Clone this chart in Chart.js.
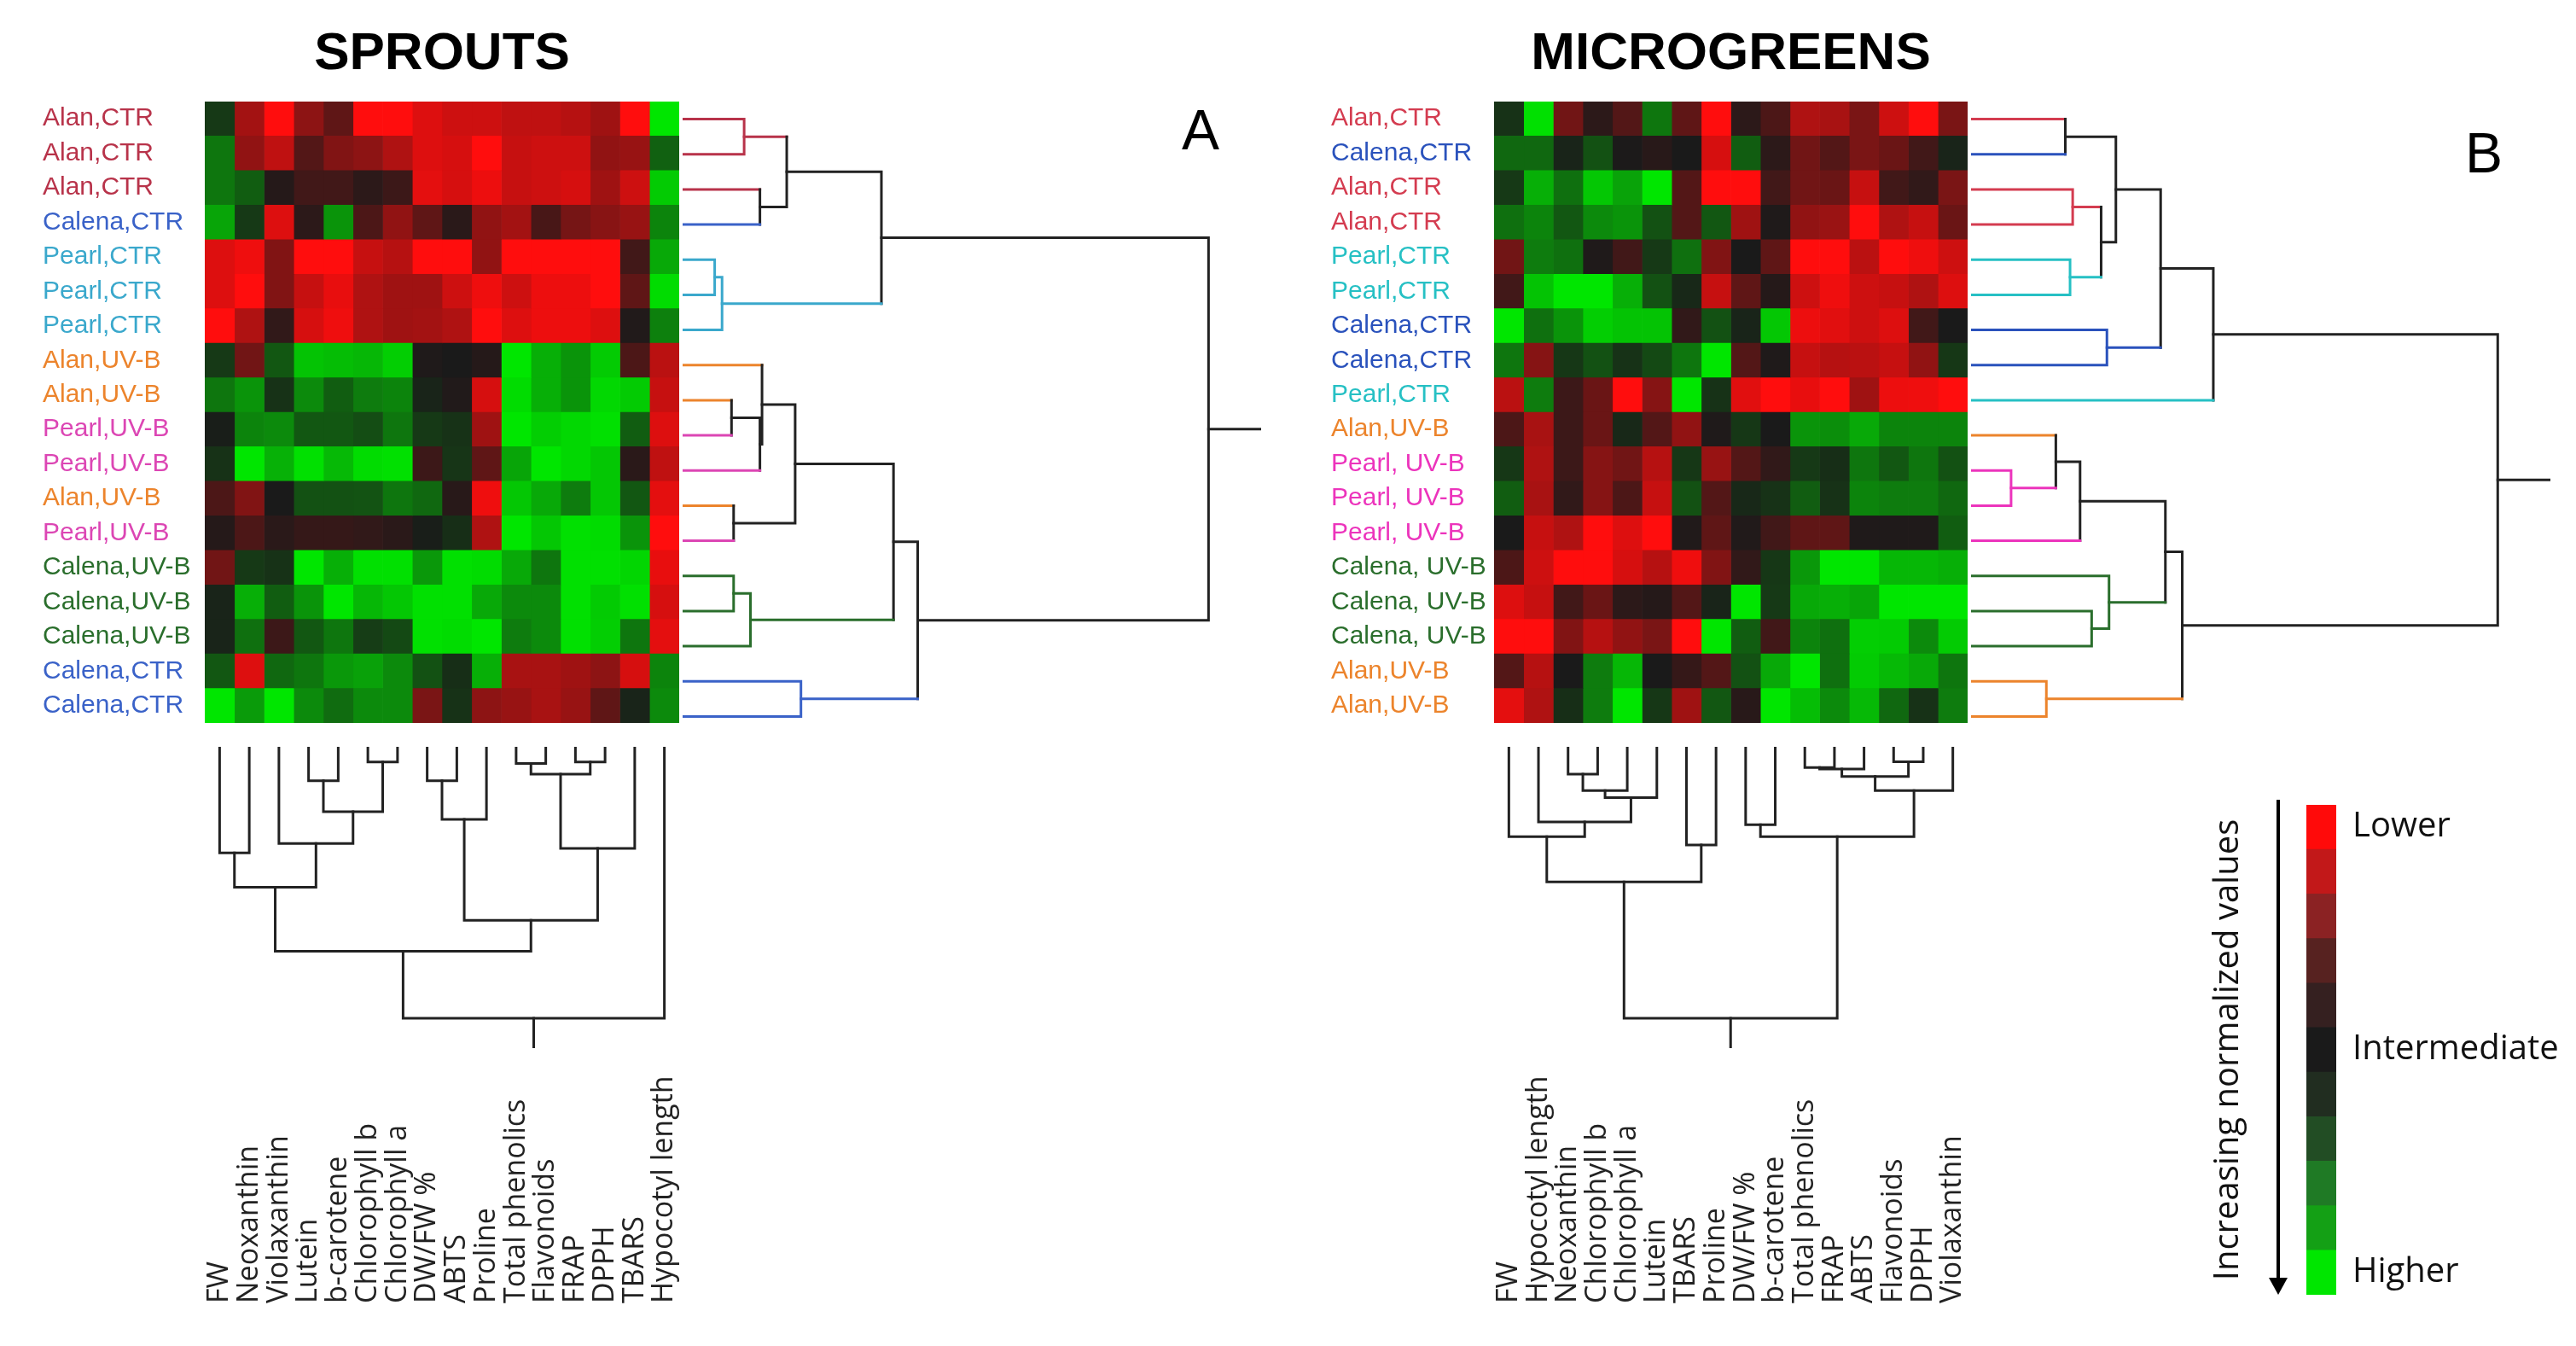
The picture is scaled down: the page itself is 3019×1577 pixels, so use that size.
<!DOCTYPE html>
<html>
<head>
<meta charset="utf-8">
<script src="https://cdn.jsdelivr.net/npm/chart.js@4.4.1/dist/chart.umd.min.js"></script>
<style>
  html, body { margin: 0; padding: 0; background: #fff; }
  #page { position: relative; width: 3019px; height: 1577px; overflow: hidden; background: #fff; }
  canvas { position: absolute; }
  .tag { position: absolute; font-family: 'Liberation Sans', Arial, sans-serif; font-size: 66px; line-height: 1; color: #000; }
</style>
</head>
<body>
<div id="page">
  <canvas id="heatA" width="750" height="845" style="left:50px;top:20px"></canvas>
  <canvas id="rowDendA" width="678" height="741" style="left:800px;top:119px"></canvas>
  <canvas id="colDendA" width="556" height="353" style="left:240px;top:875px"></canvas>
  <canvas id="colLabA" width="700" height="340" style="left:200px;top:1200px"></canvas>

  <canvas id="heatB" width="750" height="845" style="left:1560px;top:20px"></canvas>
  <canvas id="rowDendB" width="679" height="741" style="left:2310px;top:119px"></canvas>
  <canvas id="colDendB" width="555" height="353" style="left:1751px;top:875px"></canvas>
  <canvas id="colLabB" width="700" height="340" style="left:1711px;top:1200px"></canvas>

  <canvas id="legend" width="439" height="660" style="left:2580px;top:900px"></canvas>

  <div class="tag" style="left:1385px;top:119px">A</div>
  <div class="tag" style="left:2889px;top:146px">B</div>
</div>
<script>
// ---- data ----
const colNamesA = ['FW', 'Neoxanthin', 'Violaxanthin', 'Lutein', 'b-carotene', 'Chlorophyll b', 'Chlorophyll a',
  'DW/FW %', 'ABTS', 'Proline', 'Total phenolics', 'Flavonoids', 'FRAP', 'DPPH', 'TBARS', 'Hypocotyl length'];
const colNamesB = ['FW', 'Hypocotyl length', 'Neoxanthin', 'Chlorophyll b', 'Chlorophyll a', 'Lutein', 'TBARS',
  'Proline', 'DW/FW %', 'b-carotene', 'Total phenolics', 'FRAP', 'ABTS', 'Flavonoids', 'DPPH', 'Violaxanthin'];

const rowLabelsA = ['Alan,CTR', 'Alan,CTR', 'Alan,CTR', 'Calena,CTR', 'Pearl,CTR', 'Pearl,CTR', 'Pearl,CTR',
  'Alan,UV-B', 'Alan,UV-B', 'Pearl,UV-B', 'Pearl,UV-B', 'Alan,UV-B', 'Pearl,UV-B',
  'Calena,UV-B', 'Calena,UV-B', 'Calena,UV-B', 'Calena,CTR', 'Calena,CTR'];
const rowLabelsB = ['Alan,CTR', 'Calena,CTR', 'Alan,CTR', 'Alan,CTR', 'Pearl,CTR', 'Pearl,CTR', 'Calena,CTR',
  'Calena,CTR', 'Pearl,CTR', 'Alan,UV-B', 'Pearl, UV-B', 'Pearl, UV-B', 'Pearl, UV-B',
  'Calena, UV-B', 'Calena, UV-B', 'Calena, UV-B', 'Alan,UV-B', 'Alan,UV-B'];

// normalized values, -1 = lower (red), 0 = intermediate (black), 1 = higher (green)
const valuesA = [
  [0.15, -0.6, -1, -0.5, -0.3, -1, -1, -0.85, -0.78, -0.78, -0.72, -0.72, -0.68, -0.58, -1, 1],
  [0.45, -0.52, -0.72, -0.25, -0.45, -0.5, -0.65, -0.85, -0.82, -1, -0.75, -0.78, -0.78, -0.52, -0.55, 0.35],
  [0.45, 0.33, -0.05, -0.17, -0.17, -0.08, -0.15, -0.88, -0.82, -0.92, -0.75, -0.78, -0.82, -0.58, -0.78, 0.87],
  [0.68, 0.15, -0.85, -0.08, 0.6, -0.22, -0.52, -0.3, -0.07, -0.52, -0.6, -0.2, -0.4, -0.48, -0.55, 0.52],
  [-0.85, -0.93, -0.45, -1, -1, -0.75, -0.68, -1, -1, -0.52, -1, -1, -1, -1, -0.17, 0.7],
  [-0.85, -1, -0.45, -0.75, -0.9, -0.65, -0.58, -0.58, -0.78, -0.93, -0.78, -0.92, -0.92, -1, -0.3, 0.95],
  [-1, -0.65, -0.1, -0.82, -0.93, -0.65, -0.58, -0.6, -0.65, -1, -0.85, -0.92, -0.92, -0.85, -0.03, 0.5],
  [0.15, -0.38, 0.3, 0.83, 0.8, 0.77, 0.88, -0.02, 0, -0.05, 1, 0.73, 0.6, 0.87, -0.22, -0.7],
  [0.45, 0.6, 0.12, 0.55, 0.33, 0.48, 0.52, 0.05, -0.03, -0.82, 0.95, 0.73, 0.6, 0.93, 0.87, -0.75],
  [0.02, 0.52, 0.55, 0.3, 0.3, 0.25, 0.45, 0.15, 0.12, -0.58, 1, 0.88, 0.93, 0.97, 0.33, -0.85],
  [0.12, 1, 0.74, 0.97, 0.78, 0.95, 0.97, -0.15, 0.13, -0.3, 0.68, 1, 0.93, 0.85, -0.07, -0.72],
  [-0.22, -0.45, 0, 0.27, 0.27, 0.28, 0.45, 0.38, -0.06, -0.93, 0.85, 0.7, 0.48, 0.85, 0.3, -0.88],
  [-0.05, -0.22, -0.07, -0.12, -0.12, -0.1, -0.07, 0.02, 0.1, -0.65, 1, 0.85, 0.97, 0.95, 0.6, -1],
  [-0.38, 0.15, 0.12, 1, 0.73, 0.97, 0.97, 0.62, 0.97, 0.95, 0.7, 0.45, 0.97, 0.97, 0.92, -0.9],
  [0.05, 0.73, 0.33, 0.6, 1, 0.77, 0.85, 0.97, 0.97, 0.7, 0.55, 0.55, 0.97, 0.87, 0.97, -0.82],
  [0.05, 0.42, -0.15, 0.3, 0.45, 0.17, 0.23, 0.97, 0.95, 1, 0.48, 0.55, 0.97, 0.88, 0.45, -0.88],
  [0.3, -0.85, 0.38, 0.45, 0.62, 0.66, 0.55, 0.27, 0.1, 0.73, -0.62, -0.62, -0.58, -0.5, -0.82, 0.52],
  [1, 0.63, 1, 0.55, 0.4, 0.55, 0.55, -0.42, 0.12, -0.5, -0.55, -0.62, -0.55, -0.3, 0.05, 0.55]
];
const valuesB = [
  [0.12, 0.97, -0.38, -0.08, -0.25, 0.45, -0.3, -1, -0.08, -0.22, -0.65, -0.62, -0.42, -0.78, -1, -0.42],
  [0.38, 0.38, 0.05, 0.27, -0.01, -0.06, 0, -0.82, 0.33, -0.08, -0.38, -0.25, -0.42, -0.35, -0.17, 0.05],
  [0.15, 0.73, 0.42, 0.85, 0.67, 1, -0.25, -1, -1, -0.17, -0.38, -0.35, -0.75, -0.17, -0.1, -0.42],
  [0.42, 0.52, 0.3, 0.55, 0.6, 0.27, -0.25, 0.3, -0.58, -0.02, -0.52, -0.56, -1, -0.65, -0.75, -0.35],
  [-0.38, 0.48, 0.42, -0.02, -0.17, 0.15, 0.42, -0.45, 0, -0.3, -1, -1, -0.7, -1, -0.93, -0.78],
  [-0.17, 0.83, 1, 1, 0.73, 0.27, 0.07, -0.75, -0.3, -0.05, -0.78, -0.93, -0.78, -0.75, -0.65, -0.85],
  [1, 0.42, 0.6, 0.88, 0.83, 0.83, -0.1, 0.27, 0.05, 0.85, -0.92, -0.87, -0.78, -0.85, -0.17, 0],
  [0.45, -0.47, 0.14, 0.27, 0.12, 0.23, 0.45, 1, -0.25, -0.02, -0.75, -0.68, -0.7, -0.75, -0.52, 0.14],
  [-0.7, 0.48, -0.15, -0.35, -1, -0.47, 1, 0.12, -0.87, -1, -0.9, -1, -0.58, -0.92, -0.93, -1],
  [-0.22, -0.62, -0.15, -0.35, 0.07, -0.25, -0.52, -0.02, 0.14, 0, 0.6, 0.57, 0.7, 0.52, 0.52, 0.52],
  [0.14, -0.65, -0.15, -0.47, -0.38, -0.68, 0.14, -0.55, -0.25, -0.1, 0.15, 0.1, 0.45, 0.3, 0.45, 0.27],
  [0.33, -0.62, -0.1, -0.47, -0.22, -0.75, 0.27, -0.25, 0.07, 0.12, 0.33, 0.12, 0.52, 0.48, 0.48, 0.38],
  [0, -0.75, -0.65, -1, -0.85, -1, -0.03, -0.3, -0.03, -0.17, -0.3, -0.3, -0.02, -0.02, -0.02, 0.33],
  [-0.22, -0.78, -1, -1, -0.82, -0.68, -0.93, -0.45, -0.1, 0.14, 0.62, 1, 1, 0.77, 0.77, 0.73],
  [-0.85, -0.75, -0.17, -0.35, -0.08, -0.05, -0.25, 0.05, 1, 0.15, 0.7, 0.73, 0.68, 1, 1, 1],
  [-1, -1, -0.45, -0.68, -0.52, -0.42, -1, 1, 0.33, -0.17, 0.52, 0.42, 0.88, 0.87, 0.55, 0.87],
  [-0.25, -0.68, 0, 0.48, 0.77, 0, -0.12, -0.25, 0.27, 0.7, 1, 0.42, 0.87, 0.78, 0.7, 0.45],
  [-0.88, -0.65, 0.1, 0.48, 1, 0.14, -0.58, 0.3, -0.06, 1, 0.8, 0.55, 0.78, 0.38, 0.12, 0.48]
];

// linkage: [left, right, height]; leaves are 0..n-1, merge k gets id n+k
const rowMergesA = [
  [0, 1, 1.17], [2, 3, 1.47], [18, 19, 1.98], [4, 5, 0.61], [21, 6, 0.75], [20, 22, 3.78],
  [8, 9, 0.93], [24, 10, 1.47], [7, 25, 1.51], [11, 12, 0.97], [26, 27, 2.14], [13, 14, 0.97],
  [29, 15, 1.29], [28, 30, 4.01], [16, 17, 2.25], [31, 32, 4.47], [23, 33, 10]
];
const rowMergesB = [
  [0, 1, 1.79], [2, 3, 1.93], [4, 5, 1.88], [19, 20, 2.47], [18, 21, 2.75], [6, 7, 2.58],
  [22, 23, 3.6], [24, 8, 4.6], [10, 11, 0.76], [9, 26, 1.61], [27, 12, 2.07], [14, 15, 2.29],
  [13, 29, 2.62], [28, 30, 3.69], [16, 17, 1.43], [31, 32, 4.01], [25, 33, 10]
];
const colMergesA = [
  [0, 1, 3.91], [3, 4, 1.25], [5, 6, 0.56], [17, 18, 2.39], [2, 19, 3.56], [16, 20, 5.17],
  [7, 8, 1.25], [22, 9, 2.67], [10, 11, 0.61], [12, 13, 0.56], [24, 25, 1.01], [26, 14, 3.74],
  [23, 27, 6.39], [21, 28, 7.53], [29, 15, 10]
];
const colMergesB = [
  [2, 3, 1.01], [16, 4, 1.61], [17, 5, 1.87], [1, 18, 2.77], [0, 19, 3.31], [6, 7, 3.62],
  [20, 21, 4.98], [8, 9, 2.87], [10, 11, 0.76], [24, 12, 0.82], [13, 14, 0.55], [25, 26, 1.09],
  [27, 15, 1.61], [23, 28, 3.31], [22, 29, 10]
];

const legendLabels = ['Lower', '', '', '', '', 'Intermediate', '', '', '', '', 'Higher'];
const legendColors = ['#ff0a0a', '#c21819', '#8b2223', '#572220', '#352020', '#1a1a1a',
  '#212d20', '#224d24', '#1f7a25', '#14a015', '#00e600'];

// ---- styles ----
const groupColorsA = {
  'Alan,CTR': '#b8334a', 'Calena,CTR': '#3a62c8', 'Pearl,CTR': '#3aa8cc',
  'Alan,UV-B': '#ec842c', 'Pearl,UV-B': '#dc46b4', 'Calena,UV-B': '#2a6e2c'
};
const groupColorsB = {
  'Alan,CTR': '#d43c50', 'Calena,CTR': '#2a52bc', 'Pearl,CTR': '#26c0c4',
  'Alan,UV-B': '#ec842c', 'Pearl, UV-B': '#ec34bc', 'Calena, UV-B': '#2a6e2c'
};
const LINE = '#222';
const LABEL_SIZE = 34;

function cellColor(v) {
  const t = Math.min(1, Math.abs(v));
  const end = v < 0 ? [255, 13, 13] : [0, 230, 0];
  const c = [26, 26, 26].map((b, k) => Math.round(b + (end[k] - b) * t));
  return 'rgb(' + c.join(',') + ')';
}

const quiet = { legend: { display: false }, tooltip: { enabled: false } };
const noGrid = { display: false, drawTicks: false };

function heatmap(id, title, rows, cols, values, colors, axisWidth) {
  new Chart(document.getElementById(id), {
    type: 'bar',
    data: {
      labels: rows,
      datasets: cols.map((name, j) => ({
        label: name,
        data: rows.map(() => 1),
        backgroundColor: values.map(r => cellColor(r[j])),
        borderWidth: 0,
        barPercentage: 1,
        categoryPercentage: 1
      }))
    },
    options: {
      indexAxis: 'y',
      responsive: false,
      animation: false,
      layout: { padding: { right: 4, bottom: 5 } },
      plugins: quiet,
      scales: {
        x: {
          stacked: true, min: 0, max: cols.length, position: 'top',
          grid: noGrid, border: { display: false }, ticks: { display: false },
          title: {
            display: true, text: title, color: '#000',
            font: { family: "'Liberation Sans'", size: 62, weight: 'bold' },
            padding: { top: 7, bottom: 0 }
          },
          afterFit: s => { s.height = 99; }
        },
        y: {
          stacked: true,
          grid: noGrid, border: { display: false },
          ticks: {
            autoSkip: false, crossAlign: 'far', padding: 0,
            color: c => colors[rows[c.index]],
            font: { family: "'Liberation Sans'", size: 30 }
          },
          afterFit: s => { s.width = axisWidth; }
        }
      }
    }
  });
}

function dendrogram(id, merges, leafColors, horizontal, maxH, stub) {
  const n = leafColors.length;
  const pos = [], col = [], h = [];
  for (let i = 0; i < n; i++) { pos.push(i + 0.5); col.push(leafColors[i]); h.push(0); }
  const pt = (height, p) => horizontal ? { x: height, y: p } : { x: p, y: height };
  const datasets = [];
  merges.forEach(([a, b, hm]) => {
    const c = col[a] === col[b] ? col[a] : LINE;
    const segColors = [col[a], c, col[b]];
    datasets.push({
      data: [pt(h[a], pos[a]), pt(hm, pos[a]), pt(hm, pos[b]), pt(h[b], pos[b])],
      borderColor: c,
      segment: { borderColor: s => segColors[s.p0DataIndex] }
    });
    pos.push((pos[a] + pos[b]) / 2); col.push(c); h.push(hm);
  });
  const root = pos.length - 1;
  datasets.push({ data: [pt(h[root], pos[root]), pt(h[root] + stub, pos[root])], borderColor: LINE });

  const hAxis = { type: 'linear', display: false, min: 0, max: maxH };
  const pAxis = { type: 'linear', display: false, min: 0, max: n };
  new Chart(document.getElementById(id), {
    type: 'scatter',
    data: { datasets },
    options: {
      responsive: false,
      animation: false,
      plugins: quiet,
      elements: { point: { radius: 0 } },
      datasets: {
        scatter: {
          showLine: true, borderWidth: 3, fill: false, clip: false,
          borderJoinStyle: 'miter', borderCapStyle: 'square'
        }
      },
      scales: horizontal
        ? { x: hAxis, y: Object.assign({ reverse: true }, pAxis) }
        : { x: pAxis, y: Object.assign({ reverse: true }, hAxis) }
    }
  });
}

// rotated labels on a top axis start at a common baseline; the chart area is
// moved right by one line height because Chart.js draws them that far left of the tick
function columnLabels(id, cols, areaWidth) {
  const shift = LABEL_SIZE * 1.2;
  const left = 40 + shift;
  new Chart(document.getElementById(id), {
    type: 'bar',
    data: { labels: cols, datasets: [{ data: cols.map(() => null) }] },
    options: {
      responsive: false,
      animation: false,
      layout: { padding: { left: left, right: 700 - left - areaWidth } },
      plugins: quiet,
      scales: {
        x: {
          position: 'top', grid: noGrid, border: { display: false },
          ticks: {
            autoSkip: false, minRotation: 90, maxRotation: 90, padding: 0, color: '#222',
            font: { family: "'Open Sans'", size: LABEL_SIZE }
          },
          afterFit: s => { s.height = 327; }
        },
        y: { display: false }
      }
    }
  });
}

heatmap('heatA', 'SPROUTS', rowLabelsA, colNamesA, valuesA, groupColorsA, 190);
heatmap('heatB', 'MICROGREENS', rowLabelsB, colNamesB, valuesB, groupColorsB, 191);

dendrogram('rowDendA', rowMergesA, rowLabelsA.map(r => groupColorsA[r]), true, 11, 1);
dendrogram('rowDendB', rowMergesB, rowLabelsB.map(r => groupColorsB[r]), true, 11, 1);
dendrogram('colDendA', colMergesA, colNamesA.map(() => LINE), false, 11.1, 1.1);
dendrogram('colDendB', colMergesB, colNamesB.map(() => LINE), false, 11.1, 1.1);

columnLabels('colLabA', colNamesA, 556);
columnLabels('colLabB', colNamesB, 555);

// arrow beside the colour key
const arrowPlugin = {
  id: 'arrow',
  afterDraw(chart) {
    const { ctx, chartArea } = chart;
    const x = chartArea.left - 33;
    const y0 = chartArea.top - 6, y1 = chartArea.bottom;
    ctx.save();
    ctx.strokeStyle = '#000';
    ctx.fillStyle = '#000';
    ctx.lineWidth = 4;
    ctx.beginPath(); ctx.moveTo(x, y0); ctx.lineTo(x, y1 - 16); ctx.stroke();
    ctx.beginPath(); ctx.moveTo(x - 11, y1 - 20); ctx.lineTo(x + 11, y1 - 20); ctx.lineTo(x, y1); ctx.closePath(); ctx.fill();
    ctx.restore();
  }
};

new Chart(document.getElementById('legend'), {
  type: 'bar',
  data: {
    labels: legendLabels,
    datasets: [{
      data: legendLabels.map(() => 1),
      backgroundColor: legendColors,
      borderWidth: 0,
      barPercentage: 1,
      categoryPercentage: 1
    }]
  },
  options: {
    indexAxis: 'y',
    responsive: false,
    animation: false,
    layout: { padding: { top: 31, bottom: 31 } },
    plugins: quiet,
    scales: {
      x: { display: false, min: 0, max: 1 },
      y: {
        position: 'right', grid: noGrid, border: { display: false },
        ticks: {
          autoSkip: false, padding: 19, crossAlign: 'near', color: '#111',
          font: { family: "'Open Sans'", size: 40 }
        },
        afterFit: s => { s.width = 281; }
      },
      yTitle: {
        type: 'linear', position: 'left',
        grid: noGrid, border: { display: false }, ticks: { display: false },
        title: {
          display: true, text: 'Increasing normalized values', color: '#111',
          font: { family: "'Open Sans'", size: 40 },
          padding: { top: 8, bottom: 0 }
        },
        afterFit: s => { s.width = 123; }
      }
    }
  },
  plugins: [arrowPlugin]
});
</script>
</body>
</html>
